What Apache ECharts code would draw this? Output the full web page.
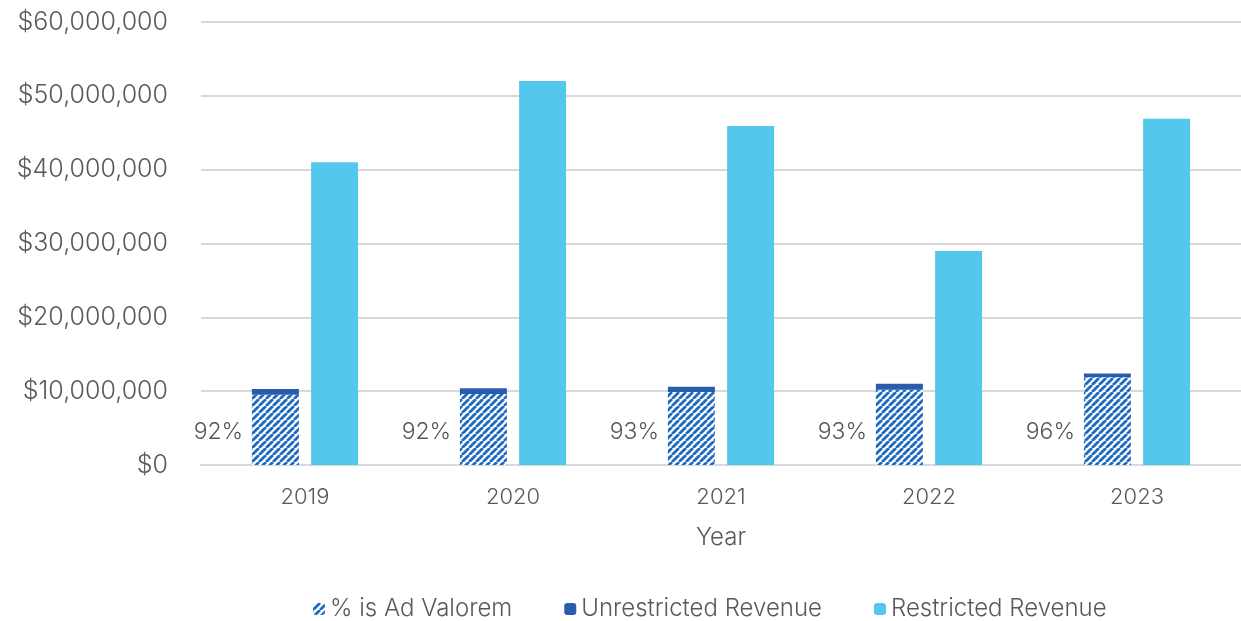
<!DOCTYPE html>
<html>
<head>
<meta charset="utf-8">
<script src="https://cdn.jsdelivr.net/npm/echarts@6/dist/echarts.min.js"></script>
<style>
  html, body { margin: 0; padding: 0; background: #fff; }
  #chart { width: 1241px; height: 621px; }
</style>
</head>
<body>
<div id="chart"></div>
<script>
const years = ["2019", "2020", "2021", "2022", "2023"];
// unrestricted revenue, the part of it that is ad valorem, and restricted revenue
const unrestricted = [10300000, 10400000, 10600000, 11000000, 12400000];
const adValorem = [9500000, 9600000, 9900000, 10200000, 11900000];
const restricted = [41000000, 52000000, 45900000, 29000000, 46900000];
const pctAdValorem = [92, 92, 93, 93, 96];
const yTicks = { min: 0, max: 60000000, interval: 10000000 };

const font = "Inter, Lato, sans-serif";
const grey = "#595959";

// hatched fill
function stripes() {
  const c = document.createElement("canvas");
  const s = 7;
  c.width = s;
  c.height = s;
  const ctx = c.getContext("2d");
  ctx.fillStyle = "#ffffff";
  ctx.fillRect(0, 0, s, s);
  ctx.strokeStyle = "#1f6bbf";
  ctx.lineWidth = 2.8;
  [-s, 0, s].forEach((dx) => {
    ctx.beginPath();
    ctx.moveTo(dx, s);
    ctx.lineTo(dx + s, 0);
    ctx.stroke();
  });
  return c;
}

const chart = echarts.init(document.getElementById("chart"));
const option = {
  animation: false,
  textStyle: { fontFamily: font, fontWeight: 300 },
  grid: { left: 201, right: 0, top: 22, bottom: 156 },
  legend: {
    left: 308,
    top: 592,
    itemWidth: 12,
    itemHeight: 12,
    itemGap: 52,
    textStyle: { fontSize: 24, color: grey, fontFamily: font, fontWeight: 300 },
    data: ["% is Ad Valorem", "Unrestricted Revenue", "Restricted Revenue"]
  },
  xAxis: {
    type: "category",
    data: years,
    name: "Year",
    nameLocation: "middle",
    nameGap: 61,
    nameTextStyle: { fontSize: 24, color: grey, fontWeight: 300 },
    axisLine: { lineStyle: { color: "#d9d9d9", width: 2 } },
    axisTick: { show: false },
    axisLabel: { fontSize: 22, color: grey, margin: 21, fontWeight: 300 }
  },
  yAxis: {
    type: "value",
    min: yTicks.min,
    max: yTicks.max,
    interval: yTicks.interval,
    axisLine: { show: false },
    axisTick: { show: false },
    splitLine: { lineStyle: { color: "#d9d9d9", width: 2 } },
    axisLabel: {
      fontSize: 25,
      color: grey,
      margin: 33,
      fontWeight: 300,
      formatter: (v) => "$" + v.toLocaleString("en-US")
    }
  },
  series: [
    {
      name: "% is Ad Valorem",
      type: "bar",
      stack: "unres",
      barWidth: 47,
      itemStyle: { color: { image: stripes(), repeat: "repeat" } },
      label: {
        show: true,
        position: "insideBottom",
        distance: 21,
        offset: [-57, 0],
        fontSize: 23,
        color: grey,
        fontWeight: 300,
        formatter: (p) => pctAdValorem[p.dataIndex] + "%"
      },
      data: adValorem
    },
    {
      name: "Unrestricted Revenue",
      type: "bar",
      stack: "unres",
      barWidth: 47,
      itemStyle: { color: "#2a5cae" },
      data: unrestricted.map((u, i) => u - adValorem[i])
    },
    {
      name: "Restricted Revenue",
      type: "bar",
      barWidth: 47,
      barGap: "26%",
      itemStyle: { color: "#53c8ec" },
      data: restricted
    }
  ]
};
chart.setOption(option);
</script>
</body>
</html>
